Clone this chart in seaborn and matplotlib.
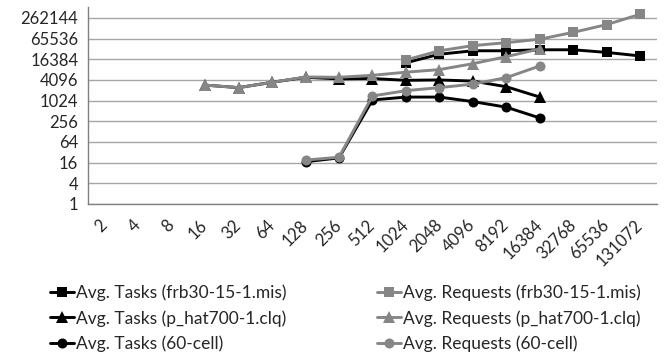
import numpy as np
import pandas as pd
import matplotlib
matplotlib.use('Agg')
import matplotlib.pyplot as plt
import seaborn as sns

# categories on the x axis
x_labels = ['2', '4', '8', '16', '32', '64', '128', '256', '512', '1024', '2048',
            '4096', '8192', '16384', '32768', '65536', '131072']

# values (None = no point)
tasks_frb = [None] * 9 + [13000, 23000, 29000, 29000, 31000, 31000, 26000, 20500]
req_frb = [None] * 9 + [15700, 29000, 41000, 50000, 63000, 100000, 168000, 336000]
tasks_phat = [None] * 3 + [2900, 2450, 3500, 4900, 4400, 4500, 4000, 4100, 3800, 2600, 1300] + [None] * 3
req_phat = [None] * 3 + [2900, 2450, 3500, 5000, 4900, 5600, 6900, 8200, 12200, 19600, 33000] + [None] * 3
tasks_60 = [None] * 6 + [17, 22, 1070, 1300, 1300, 960, 660, 320] + [None] * 3
req_60 = [None] * 6 + [19, 23, 1400, 2000, 2450, 3100, 4800, 10500] + [None] * 3

series = {
    'Avg. Tasks (frb30-15-1.mis)': tasks_frb,
    'Avg. Tasks (p_hat700-1.clq)': tasks_phat,
    'Avg. Tasks (60-cell)': tasks_60,
    'Avg. Requests (frb30-15-1.mis)': req_frb,
    'Avg. Requests (p_hat700-1.clq)': req_phat,
    'Avg. Requests (60-cell)': req_60,
}

rows = []
for name, vals in series.items():
    for i, v in enumerate(vals):
        if v is not None:
            rows.append({'pos': i, 'value': v, 'series': name})
df = pd.DataFrame(rows)

black = '#000000'
gray = '#868686'
palette = {n: (black if 'Tasks' in n else gray) for n in series}
markers = {}
msize = {}
for n in series:
    if 'frb' in n:
        markers[n], msize[n] = 's', 6.8
    elif 'p_hat' in n:
        markers[n], msize[n] = '^', 8
    else:
        markers[n], msize[n] = 'o', 7.2

sns.set_style('white')
plt.rcParams['font.family'] = ['Lato', 'DejaVu Sans']

fig = plt.figure(figsize=(6.69, 3.55), dpi=100)
ax = fig.add_axes([0.1315, 0.4254, 0.8505, 0.5546])

# excel order: each tasks series, then its requests series on top
names = list(series.keys())
order = [names[0], names[3], names[1], names[4], names[2], names[5]]
for z, name in enumerate(order):
    sub = df[df['series'] == name]
    sns.lineplot(data=sub, x='pos', y='value', color=palette[name], marker=markers[name],
                 markersize=msize[name], markeredgewidth=0,
                 linewidth=2.1, ax=ax, label=name, zorder=2 + z * 0.1)

ax.set_yscale('log', base=2)
ax.set_ylim(1, 2 ** 19.05)
yt = [4 ** k for k in range(10)]
ax.set_yticks(yt)
ax.set_yticklabels([str(v) for v in yt], fontsize=12)
ax.yaxis.set_minor_locator(matplotlib.ticker.NullLocator())
for v in yt:
    ax.axhline(v, color='#a6a6a6', linewidth=1, zorder=0)

ax.set_xlim(-0.5, len(x_labels) - 0.5)
ax.set_xticks(range(len(x_labels)))
ax.set_xticklabels(x_labels, rotation=45, ha='right', va='center',
                   rotation_mode='anchor', fontsize=12)
ax.set_xticks(np.arange(-0.5, len(x_labels), 1), minor=True)
ax.tick_params(axis='x', which='major', length=0, pad=13.5)
ax.tick_params(axis='x', which='minor', length=5, color='#808080', direction='out')
ax.tick_params(axis='y', which='major', length=5, color='#808080', direction='out', pad=2)
ax.set_xlabel('')
ax.set_ylabel('')

for s in ['top', 'right']:
    ax.spines[s].set_visible(False)
for s in ['left', 'bottom']:
    ax.spines[s].set_color('#808080')
    ax.spines[s].set_linewidth(1)

handles, labels = ax.get_legend_handles_labels()
hmap = dict(zip(labels, handles))
ax.legend([hmap[n] for n in names], names, ncol=2, loc='upper left',
          bbox_to_anchor=(-0.079, -0.375), frameon=False, fontsize=12.5,
          handlelength=1.4, handletextpad=0.1, columnspacing=5.2, labelspacing=0.5,
          borderaxespad=0)

fig.savefig('out.png', dpi=100)
